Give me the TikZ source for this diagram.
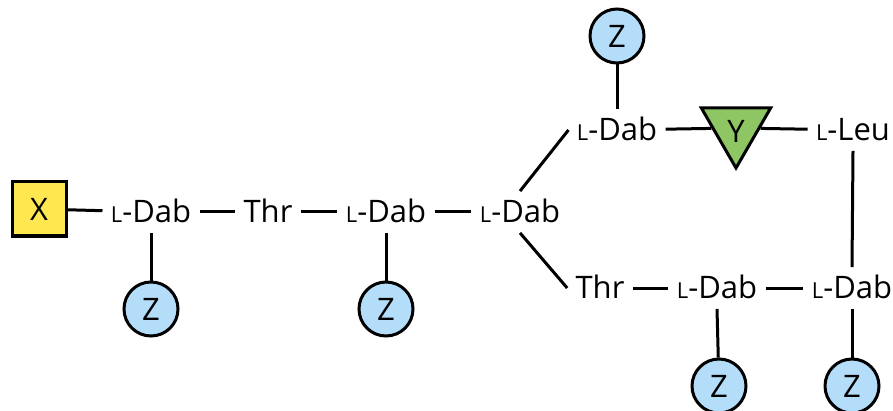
\documentclass[tikz,border=0pt]{standalone}
\usepackage{fontspec}
\setmainfont{Open Sans}
\usetikzlibrary{shapes.geometric}

\definecolor{zblue}{RGB}{180,221,250}
\definecolor{xyellow}{RGB}{255,231,80}
\definecolor{ygreen}{RGB}{141,198,99}
\newcommand{\lsc}{{\fontsize{11}{11}\selectfont L}}

\begin{document}
\begin{tikzpicture}[x=0.5pt,y=-0.5pt,
		res/.style={inner xsep=4pt, inner ysep=5pt, text height=10.5pt, text depth=0pt, font=\fontsize{15.5}{17}\selectfont},
		zcirc/.style={circle, draw=black, line width=1.5pt, fill=zblue, minimum size=27pt, inner sep=0pt, font=\fontsize{15.5}{17}\selectfont},
		bond/.style={line width=1.5pt}]
		\useasboundingbox (0,0) rectangle (893,411);
		
		%end groups
		\node[draw=black, line width=1.5pt, fill=xyellow, minimum size=27pt, inner sep=0pt, font=\fontsize{15.5}{17}\selectfont] (xbox) at (39,209) {X};
		\node[regular polygon, regular polygon sides=3, shape border rotate=180, draw=black, line width=1.5pt, fill=ygreen, minimum size=40pt, inner sep=0pt, font=\fontsize{15.5}{17}\selectfont] (ytri) at (736,128) {};
		\node[font=\fontsize{15.5}{17}\selectfont] (ylab) at (736,131) {Y};
		
		%residues
		\node[res] (dab1) at (151,212) {\lsc-Dab};
		\node[res] (thr1) at (268,212) {Thr};
		\node[res] (dab2) at (386,212) {\lsc-Dab};
		\node[res] (dab3) at (520,212) {\lsc-Dab};
		\node[res] (dab4) at (617,130) {\lsc-Dab};
		\node[res] (leu) at (853,130) {\lsc-Leu};
		\node[res] (thr2) at (600,288) {Thr};
		\node[res] (dab5) at (717,288) {\lsc-Dab};
		\node[res] (dab6) at (852,288) {\lsc-Dab};
		
		%side chains
		\node[zcirc] (z1) at (151,309) {Z};
		\node[zcirc] (z2) at (386,309) {Z};
		\node[zcirc] (z4) at (617,36) {Z};
		\node[zcirc] (z5) at (719,386) {Z};
		\node[zcirc] (z6) at (852,386) {Z};
		
		%bonds
		\draw[bond] (xbox) -- (dab1);
		\draw[bond] (dab1) -- (thr1);
		\draw[bond] (thr1) -- (dab2);
		\draw[bond] (dab2) -- (dab3);
		\draw[bond] (dab3.north) -- (dab4.west);
		\draw[bond] (dab3.south) -- (thr2.west);
		\draw[bond] (dab4) -- (ytri);
		\draw[bond] (ytri) -- (leu);
		\draw[bond] (leu.south) -- (dab6.north);
		\draw[bond] (thr2) -- (dab5);
		\draw[bond] (dab5) -- (dab6);
		
		\draw[bond] (dab1) -- (z1);
		\draw[bond] (dab2) -- (z2);
		\draw[bond] (dab4) -- (z4);
		\draw[bond] (dab5.south) -- (z5);
		\draw[bond] (dab6) -- (z6);
	
\end{tikzpicture}
\end{document}
